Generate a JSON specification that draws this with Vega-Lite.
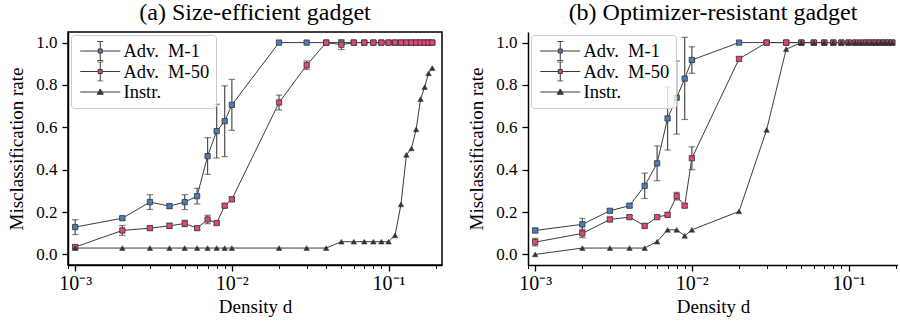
{
  "$schema": "https://vega.github.io/schema/vega-lite/v6.json",
  "padding": {"left": 7, "top": 0, "right": 0, "bottom": 0},
  "spacing": 24,
  "data": {"values": [
    {"p":"a","s":"M1","d":0.001,"v":0.129,"lo":0.094,"hi":0.164},
    {"p":"a","s":"M1","d":0.002,"v":0.171,"lo":0.163,"hi":0.179},
    {"p":"a","s":"M1","d":0.003,"v":0.247,"lo":0.212,"hi":0.282},
    {"p":"a","s":"M1","d":0.004,"v":0.228,"lo":0.218,"hi":0.238},
    {"p":"a","s":"M1","d":0.005,"v":0.247,"lo":0.212,"hi":0.282},
    {"p":"a","s":"M1","d":0.006,"v":0.275,"lo":0.238,"hi":0.312},
    {"p":"a","s":"M1","d":0.007,"v":0.464,"lo":0.378,"hi":0.551},
    {"p":"a","s":"M1","d":0.008,"v":0.582,"lo":0.455,"hi":0.709},
    {"p":"a","s":"M1","d":0.009,"v":0.629,"lo":0.462,"hi":0.796},
    {"p":"a","s":"M1","d":0.01,"v":0.706,"lo":0.586,"hi":0.826},
    {"p":"a","s":"M1","d":0.02,"v":1},{"p":"a","s":"M1","d":0.03,"v":1},{"p":"a","s":"M1","d":0.04,"v":1},
    {"p":"a","s":"M1","d":0.05,"v":1},{"p":"a","s":"M1","d":0.06,"v":1},{"p":"a","s":"M1","d":0.07,"v":1},
    {"p":"a","s":"M1","d":0.08,"v":1},{"p":"a","s":"M1","d":0.09,"v":1},{"p":"a","s":"M1","d":0.1,"v":1},
    {"p":"a","s":"M1","d":0.11,"v":1},{"p":"a","s":"M1","d":0.12,"v":1},{"p":"a","s":"M1","d":0.13,"v":1},
    {"p":"a","s":"M1","d":0.14,"v":1},{"p":"a","s":"M1","d":0.15,"v":1},{"p":"a","s":"M1","d":0.16,"v":1},
    {"p":"a","s":"M1","d":0.17,"v":1},{"p":"a","s":"M1","d":0.18,"v":1},{"p":"a","s":"M1","d":0.19,"v":1},

    {"p":"a","s":"M50","d":0.001,"v":0.035,"lo":0.025,"hi":0.045},
    {"p":"a","s":"M50","d":0.002,"v":0.113,"lo":0.09,"hi":0.136},
    {"p":"a","s":"M50","d":0.003,"v":0.124,"lo":0.114,"hi":0.134},
    {"p":"a","s":"M50","d":0.004,"v":0.135,"lo":0.123,"hi":0.147},
    {"p":"a","s":"M50","d":0.005,"v":0.146,"lo":0.131,"hi":0.161},
    {"p":"a","s":"M50","d":0.006,"v":0.124,"lo":0.116,"hi":0.132},
    {"p":"a","s":"M50","d":0.007,"v":0.165,"lo":0.145,"hi":0.185},
    {"p":"a","s":"M50","d":0.008,"v":0.148,"lo":0.14,"hi":0.156},
    {"p":"a","s":"M50","d":0.009,"v":0.23,"lo":0.22,"hi":0.24},
    {"p":"a","s":"M50","d":0.01,"v":0.26,"lo":0.25,"hi":0.27},
    {"p":"a","s":"M50","d":0.02,"v":0.717,"lo":0.682,"hi":0.752},
    {"p":"a","s":"M50","d":0.03,"v":0.893,"lo":0.873,"hi":0.913},
    {"p":"a","s":"M50","d":0.04,"v":1},
    {"p":"a","s":"M50","d":0.05,"v":0.99,"lo":0.967,"hi":1.013},
    {"p":"a","s":"M50","d":0.06,"v":1},{"p":"a","s":"M50","d":0.07,"v":1},{"p":"a","s":"M50","d":0.08,"v":1},
    {"p":"a","s":"M50","d":0.09,"v":1},{"p":"a","s":"M50","d":0.1,"v":1},{"p":"a","s":"M50","d":0.11,"v":1},
    {"p":"a","s":"M50","d":0.12,"v":1},{"p":"a","s":"M50","d":0.13,"v":1},{"p":"a","s":"M50","d":0.14,"v":1},
    {"p":"a","s":"M50","d":0.15,"v":1},{"p":"a","s":"M50","d":0.16,"v":1},{"p":"a","s":"M50","d":0.17,"v":1},
    {"p":"a","s":"M50","d":0.18,"v":1},{"p":"a","s":"M50","d":0.19,"v":1},

    {"p":"a","s":"In","d":0.001,"v":0.03},{"p":"a","s":"In","d":0.002,"v":0.03},{"p":"a","s":"In","d":0.003,"v":0.03},
    {"p":"a","s":"In","d":0.004,"v":0.03},{"p":"a","s":"In","d":0.005,"v":0.03},{"p":"a","s":"In","d":0.006,"v":0.03},
    {"p":"a","s":"In","d":0.007,"v":0.03},{"p":"a","s":"In","d":0.008,"v":0.03},{"p":"a","s":"In","d":0.009,"v":0.03},
    {"p":"a","s":"In","d":0.01,"v":0.03},{"p":"a","s":"In","d":0.02,"v":0.03},{"p":"a","s":"In","d":0.03,"v":0.03},
    {"p":"a","s":"In","d":0.04,"v":0.03},{"p":"a","s":"In","d":0.05,"v":0.06},{"p":"a","s":"In","d":0.06,"v":0.06},
    {"p":"a","s":"In","d":0.07,"v":0.06},{"p":"a","s":"In","d":0.08,"v":0.06},{"p":"a","s":"In","d":0.09,"v":0.06},
    {"p":"a","s":"In","d":0.1,"v":0.06},{"p":"a","s":"In","d":0.11,"v":0.09},{"p":"a","s":"In","d":0.12,"v":0.236},
    {"p":"a","s":"In","d":0.13,"v":0.47},{"p":"a","s":"In","d":0.14,"v":0.5},{"p":"a","s":"In","d":0.15,"v":0.59},
    {"p":"a","s":"In","d":0.16,"v":0.733},{"p":"a","s":"In","d":0.17,"v":0.79},{"p":"a","s":"In","d":0.18,"v":0.855},
    {"p":"a","s":"In","d":0.19,"v":0.88},

    {"p":"b","s":"M1","d":0.001,"v":0.113,"lo":0.103,"hi":0.123},
    {"p":"b","s":"M1","d":0.002,"v":0.142,"lo":0.113,"hi":0.17},
    {"p":"b","s":"M1","d":0.003,"v":0.206,"lo":0.198,"hi":0.214},
    {"p":"b","s":"M1","d":0.004,"v":0.23,"lo":0.222,"hi":0.238},
    {"p":"b","s":"M1","d":0.005,"v":0.324,"lo":0.264,"hi":0.384},
    {"p":"b","s":"M1","d":0.006,"v":0.43,"lo":0.348,"hi":0.512},
    {"p":"b","s":"M1","d":0.007,"v":0.642,"lo":0.493,"hi":0.79},
    {"p":"b","s":"M1","d":0.008,"v":0.74,"lo":0.568,"hi":0.913},
    {"p":"b","s":"M1","d":0.009,"v":0.83,"lo":0.637,"hi":1.025},
    {"p":"b","s":"M1","d":0.01,"v":0.918,"lo":0.855,"hi":0.98},
    {"p":"b","s":"M1","d":0.02,"v":1},{"p":"b","s":"M1","d":0.03,"v":1},{"p":"b","s":"M1","d":0.04,"v":1},
    {"p":"b","s":"M1","d":0.05,"v":1},{"p":"b","s":"M1","d":0.06,"v":1},{"p":"b","s":"M1","d":0.07,"v":1},
    {"p":"b","s":"M1","d":0.08,"v":1},{"p":"b","s":"M1","d":0.09,"v":1},{"p":"b","s":"M1","d":0.1,"v":1},
    {"p":"b","s":"M1","d":0.11,"v":1},{"p":"b","s":"M1","d":0.12,"v":1},{"p":"b","s":"M1","d":0.13,"v":1},
    {"p":"b","s":"M1","d":0.14,"v":1},{"p":"b","s":"M1","d":0.15,"v":1},{"p":"b","s":"M1","d":0.16,"v":1},
    {"p":"b","s":"M1","d":0.17,"v":1},{"p":"b","s":"M1","d":0.18,"v":1},{"p":"b","s":"M1","d":0.19,"v":1},

    {"p":"b","s":"M50","d":0.001,"v":0.058,"lo":0.04,"hi":0.076},
    {"p":"b","s":"M50","d":0.002,"v":0.099,"lo":0.079,"hi":0.119},
    {"p":"b","s":"M50","d":0.003,"v":0.165,"lo":0.155,"hi":0.175},
    {"p":"b","s":"M50","d":0.004,"v":0.176,"lo":0.168,"hi":0.184},
    {"p":"b","s":"M50","d":0.005,"v":0.135,"lo":0.125,"hi":0.145},
    {"p":"b","s":"M50","d":0.006,"v":0.176,"lo":0.168,"hi":0.184},
    {"p":"b","s":"M50","d":0.007,"v":0.187,"lo":0.177,"hi":0.197},
    {"p":"b","s":"M50","d":0.008,"v":0.275,"lo":0.257,"hi":0.293},
    {"p":"b","s":"M50","d":0.009,"v":0.23,"lo":0.222,"hi":0.238},
    {"p":"b","s":"M50","d":0.01,"v":0.454,"lo":0.4,"hi":0.508},
    {"p":"b","s":"M50","d":0.02,"v":0.923,"lo":0.913,"hi":0.933},
    {"p":"b","s":"M50","d":0.03,"v":1},{"p":"b","s":"M50","d":0.04,"v":1},{"p":"b","s":"M50","d":0.05,"v":1},
    {"p":"b","s":"M50","d":0.06,"v":1},{"p":"b","s":"M50","d":0.07,"v":1},{"p":"b","s":"M50","d":0.08,"v":1},
    {"p":"b","s":"M50","d":0.09,"v":1},{"p":"b","s":"M50","d":0.1,"v":1},{"p":"b","s":"M50","d":0.11,"v":1},
    {"p":"b","s":"M50","d":0.12,"v":1},{"p":"b","s":"M50","d":0.13,"v":1},{"p":"b","s":"M50","d":0.14,"v":1},
    {"p":"b","s":"M50","d":0.15,"v":1},{"p":"b","s":"M50","d":0.16,"v":1},{"p":"b","s":"M50","d":0.17,"v":1},
    {"p":"b","s":"M50","d":0.18,"v":1},{"p":"b","s":"M50","d":0.19,"v":1},

    {"p":"b","s":"In","d":0.001,"v":0.0},{"p":"b","s":"In","d":0.002,"v":0.03},{"p":"b","s":"In","d":0.003,"v":0.03},
    {"p":"b","s":"In","d":0.004,"v":0.03},{"p":"b","s":"In","d":0.005,"v":0.03},{"p":"b","s":"In","d":0.006,"v":0.06},
    {"p":"b","s":"In","d":0.007,"v":0.116},{"p":"b","s":"In","d":0.008,"v":0.116},{"p":"b","s":"In","d":0.009,"v":0.088},
    {"p":"b","s":"In","d":0.01,"v":0.116},{"p":"b","s":"In","d":0.02,"v":0.203},{"p":"b","s":"In","d":0.03,"v":0.588},
    {"p":"b","s":"In","d":0.04,"v":0.969},{"p":"b","s":"In","d":0.05,"v":1},{"p":"b","s":"In","d":0.06,"v":1},
    {"p":"b","s":"In","d":0.07,"v":1},{"p":"b","s":"In","d":0.08,"v":1},{"p":"b","s":"In","d":0.09,"v":1},
    {"p":"b","s":"In","d":0.1,"v":1},{"p":"b","s":"In","d":0.11,"v":1},{"p":"b","s":"In","d":0.12,"v":1},
    {"p":"b","s":"In","d":0.13,"v":1},{"p":"b","s":"In","d":0.14,"v":1},{"p":"b","s":"In","d":0.15,"v":1},
    {"p":"b","s":"In","d":0.16,"v":1},{"p":"b","s":"In","d":0.17,"v":1},{"p":"b","s":"In","d":0.18,"v":1},
    {"p":"b","s":"In","d":0.19,"v":1}
  ]},
  "hconcat": [
    {
      "width": 374,
      "height": 233,
      "title": {"text": "(a) Size-efficient gadget"},
      "transform": [{"filter": "datum.p == 'a'"}],
      "encoding": {
        "x": {"field": "d", "type": "quantitative",
          "scale": {"type": "log", "domain": [0.0009, 0.2193], "nice": false},
          "axis": {"title": "Density d",
            "labelExpr": "abs(log(datum.value)/LN10 - round(log(datum.value)/LN10)) < 0.001 ? (round(log(datum.value)/LN10) == -3 ? '10⁻³' : (round(log(datum.value)/LN10) == -2 ? '10⁻²' : '10⁻¹')) : ''",
            "labelOverlap": false, "labelFlush": false, "labelFontSize": 20, "labelPadding": 2, "titlePadding": 4,
            "tickSize": {"condition": {"test": "abs(log(datum.value)/LN10 - round(log(datum.value)/LN10)) < 0.001", "value": 6}, "value": 3.5},
            "tickWidth": {"condition": {"test": "abs(log(datum.value)/LN10 - round(log(datum.value)/LN10)) < 0.001", "value": 1.3}, "value": 1}}},
        "y": {"field": "v", "type": "quantitative",
          "scale": {"domain": [-0.05, 1.05], "nice": false, "zero": false},
          "axis": {"title": "Misclassification rate", "values": [0, 0.2, 0.4, 0.6, 0.8, 1], "format": ".1f", "labelPadding": 5, "titlePadding": 9}}
      },
      "layer": [
        {"mark": {"type": "line", "color": "#3c3c3c", "strokeWidth": 1}, "encoding": {"detail": {"field": "s"}}},
        {"transform": [{"filter": "isValid(datum.lo)"}], "mark": {"type": "rule", "color": "#4d4d4d", "strokeWidth": 1.2},
          "encoding": {"y": {"field": "lo", "type": "quantitative", "scale": {"domain": [-0.05, 1.05], "nice": false, "zero": false}}, "y2": {"field": "hi"}}},
        {"transform": [{"filter": "isValid(datum.lo)"}], "mark": {"type": "tick", "orient": "horizontal", "size": 6.5, "thickness": 1.2, "color": "#4d4d4d"},
          "encoding": {"y": {"field": "lo", "type": "quantitative", "scale": {"domain": [-0.05, 1.05], "nice": false, "zero": false}}}},
        {"transform": [{"filter": "isValid(datum.hi)"}], "mark": {"type": "tick", "orient": "horizontal", "size": 6.5, "thickness": 1.2, "color": "#4d4d4d"},
          "encoding": {"y": {"field": "hi", "type": "quantitative", "scale": {"domain": [-0.05, 1.05], "nice": false, "zero": false}}}},
        {"transform": [{"filter": "datum.s == 'M1'"}], "mark": {"type": "point", "shape": "square", "filled": true, "fill": "#4a7dbf", "stroke": "#333333", "strokeWidth": 0.8, "size": 28, "opacity": 1}},
        {"transform": [{"filter": "datum.s == 'M50'"}], "mark": {"type": "point", "shape": "square", "filled": true, "fill": "#e6457a", "stroke": "#333333", "strokeWidth": 0.8, "size": 28, "opacity": 1}},
        {"transform": [{"filter": "datum.s == 'In'"}], "mark": {"type": "point", "shape": "triangle-up", "filled": true, "fill": "#333333", "stroke": "#333333", "strokeWidth": 0.5, "size": 30, "opacity": 1}},
        {"transform": [{"filter": "false"}], "mark": {"type": "point", "filled": true, "strokeWidth": 1, "opacity": 1},
          "encoding": {
            "x": {"field": "d", "type": "quantitative"},
            "y": {"field": "v", "type": "quantitative"},
            "fill": {"field": "s", "type": "nominal", "scale": {"domain": ["M1", "M50", "In"], "range": ["#4a7dbf", "#e6457a", "#333333"]},
              "legend": {"title": null, "clipHeight": 20, "labelExpr": "datum.label == 'M1' ? 'Adv.\u00a0 M-1' : (datum.label == 'M50' ? 'Adv.\u00a0 M-50' : 'Instr.')"}},
            "stroke": {"field": "s", "type": "nominal", "scale": {"domain": ["M1", "M50", "In"], "range": ["#3a3a3a", "#3a3a3a", "#3a3a3a"]},
              "legend": {"title": null, "clipHeight": 20, "labelExpr": "datum.label == 'M1' ? 'Adv.\u00a0 M-1' : (datum.label == 'M50' ? 'Adv.\u00a0 M-50' : 'Instr.')"}},
            "shape": {"field": "s", "type": "nominal", "scale": {"domain": ["M1", "M50", "In"], "range": [
              "M-2.5,0H-0.25M0.25,0H2.5M-0.25,-0.25H0.25V0.25H-0.25ZM0,-0.25V-1.2M-0.38,-1.2H0.38M0,0.25V1.2M-0.38,1.2H0.38",
              "M-2.5,0H-0.25M0.25,0H2.5M-0.25,-0.25H0.25V0.25H-0.25ZM0,-0.25V-1.2M-0.38,-1.2H0.38M0,0.25V1.2M-0.38,1.2H0.38",
              "M-2.5,0H2.5M0,-0.38L0.38,0.28H-0.38Z"]},
              "legend": {"title": null, "clipHeight": 20, "labelExpr": "datum.label == 'M1' ? 'Adv.\u00a0 M-1' : (datum.label == 'M50' ? 'Adv.\u00a0 M-50' : 'Instr.')"}}
          }}
      ]
    },
    {
      "width": 370,
      "height": 233,
      "view": {"stroke": null},
      "title": {"text": "(b) Optimizer-resistant gadget"},
      "transform": [{"filter": "datum.p == 'b'"}],
      "encoding": {
        "x": {"field": "d", "type": "quantitative",
          "scale": {"type": "log", "domain": [0.0009, 0.2068], "nice": false},
          "axis": {"title": "Density d",
            "labelExpr": "abs(log(datum.value)/LN10 - round(log(datum.value)/LN10)) < 0.001 ? (round(log(datum.value)/LN10) == -3 ? '10⁻³' : (round(log(datum.value)/LN10) == -2 ? '10⁻²' : '10⁻¹')) : ''",
            "labelOverlap": false, "labelFlush": false, "labelFontSize": 20, "labelPadding": 2, "titlePadding": 4,
            "tickSize": {"condition": {"test": "abs(log(datum.value)/LN10 - round(log(datum.value)/LN10)) < 0.001", "value": 6}, "value": 3.5},
            "tickWidth": {"condition": {"test": "abs(log(datum.value)/LN10 - round(log(datum.value)/LN10)) < 0.001", "value": 1.3}, "value": 1}}},
        "y": {"field": "v", "type": "quantitative",
          "scale": {"domain": [-0.05, 1.05], "nice": false, "zero": false},
          "axis": {"title": "Misclassification rate", "values": [0, 0.2, 0.4, 0.6, 0.8, 1], "format": ".1f", "labelPadding": 5, "titlePadding": 9}}
      },
      "layer": [
        {"data": {"values": [{}]}, "mark": {"type": "rule", "color": "black", "strokeWidth": 1.5}, "encoding": {"x": null, "y": {"datum": 1.05, "type": "quantitative"}}},
        {"mark": {"type": "line", "color": "#3c3c3c", "strokeWidth": 1}, "encoding": {"detail": {"field": "s"}}},
        {"transform": [{"filter": "isValid(datum.lo)"}], "mark": {"type": "rule", "color": "#4d4d4d", "strokeWidth": 1.2},
          "encoding": {"y": {"field": "lo", "type": "quantitative", "scale": {"domain": [-0.05, 1.05], "nice": false, "zero": false}}, "y2": {"field": "hi"}}},
        {"transform": [{"filter": "isValid(datum.lo)"}], "mark": {"type": "tick", "orient": "horizontal", "size": 6.5, "thickness": 1.2, "color": "#4d4d4d"},
          "encoding": {"y": {"field": "lo", "type": "quantitative", "scale": {"domain": [-0.05, 1.05], "nice": false, "zero": false}}}},
        {"transform": [{"filter": "isValid(datum.hi)"}], "mark": {"type": "tick", "orient": "horizontal", "size": 6.5, "thickness": 1.2, "color": "#4d4d4d"},
          "encoding": {"y": {"field": "hi", "type": "quantitative", "scale": {"domain": [-0.05, 1.05], "nice": false, "zero": false}}}},
        {"transform": [{"filter": "datum.s == 'M1'"}], "mark": {"type": "point", "shape": "square", "filled": true, "fill": "#4a7dbf", "stroke": "#333333", "strokeWidth": 0.8, "size": 28, "opacity": 1}},
        {"transform": [{"filter": "datum.s == 'M50'"}], "mark": {"type": "point", "shape": "square", "filled": true, "fill": "#e6457a", "stroke": "#333333", "strokeWidth": 0.8, "size": 28, "opacity": 1}},
        {"transform": [{"filter": "datum.s == 'In'"}], "mark": {"type": "point", "shape": "triangle-up", "filled": true, "fill": "#333333", "stroke": "#333333", "strokeWidth": 0.5, "size": 30, "opacity": 1}},
        {"transform": [{"filter": "false"}], "mark": {"type": "point", "filled": true, "strokeWidth": 1, "opacity": 1},
          "encoding": {
            "x": {"field": "d", "type": "quantitative"},
            "y": {"field": "v", "type": "quantitative"},
            "fill": {"field": "s", "type": "nominal", "scale": {"domain": ["M1", "M50", "In"], "range": ["#4a7dbf", "#e6457a", "#333333"]},
              "legend": {"title": null, "clipHeight": 20, "labelExpr": "datum.label == 'M1' ? 'Adv.\u00a0 M-1' : (datum.label == 'M50' ? 'Adv.\u00a0 M-50' : 'Instr.')"}},
            "stroke": {"field": "s", "type": "nominal", "scale": {"domain": ["M1", "M50", "In"], "range": ["#3a3a3a", "#3a3a3a", "#3a3a3a"]},
              "legend": {"title": null, "clipHeight": 20, "labelExpr": "datum.label == 'M1' ? 'Adv.\u00a0 M-1' : (datum.label == 'M50' ? 'Adv.\u00a0 M-50' : 'Instr.')"}},
            "shape": {"field": "s", "type": "nominal", "scale": {"domain": ["M1", "M50", "In"], "range": [
              "M-2.5,0H-0.25M0.25,0H2.5M-0.25,-0.25H0.25V0.25H-0.25ZM0,-0.25V-1.2M-0.38,-1.2H0.38M0,0.25V1.2M-0.38,1.2H0.38",
              "M-2.5,0H-0.25M0.25,0H2.5M-0.25,-0.25H0.25V0.25H-0.25ZM0,-0.25V-1.2M-0.38,-1.2H0.38M0,0.25V1.2M-0.38,1.2H0.38",
              "M-2.5,0H2.5M0,-0.38L0.38,0.28H-0.38Z"]},
              "legend": {"title": null, "clipHeight": 20, "labelExpr": "datum.label == 'M1' ? 'Adv.\u00a0 M-1' : (datum.label == 'M50' ? 'Adv.\u00a0 M-50' : 'Instr.')"}}
          }}
      ]
    }
  ],
  "resolve": {"scale": {"x": "independent", "y": "independent", "fill": "independent", "stroke": "independent", "shape": "independent"}, "legend": {"fill": "independent", "stroke": "independent", "shape": "independent"}},
  "config": {
    "font": "Liberation Serif",
    "view": {"stroke": "black", "strokeWidth": 1.5},
    "title": {"font": "Liberation Serif", "fontSize": 24, "fontWeight": "normal", "color": "black", "offset": 7, "frame": "group", "anchor": "middle"},
    "axis": {"grid": false, "domainColor": "black", "domainWidth": 1.5, "tickColor": "black", "tickWidth": 1.3, "tickSize": 6,
      "labelFont": "Liberation Serif", "labelFontSize": 17, "labelColor": "black",
      "titleFont": "Liberation Serif", "titleFontSize": 19, "titleFontWeight": "normal", "titleColor": "black"},
    "legend": {"orient": "top-left", "offset": 3, "padding": 6, "strokeColor": "#cccccc", "strokeWidth": 1, "cornerRadius": 3,
      "fillColor": "rgba(255,255,255,0.8)", "symbolSize": 256, "symbolStrokeWidth": 1,
      "symbolOffset": 14, "labelOffset": 14, "labelFont": "Liberation Serif", "labelFontSize": 18.5, "labelColor": "black", "rowPadding": 0.5}
  }
}
